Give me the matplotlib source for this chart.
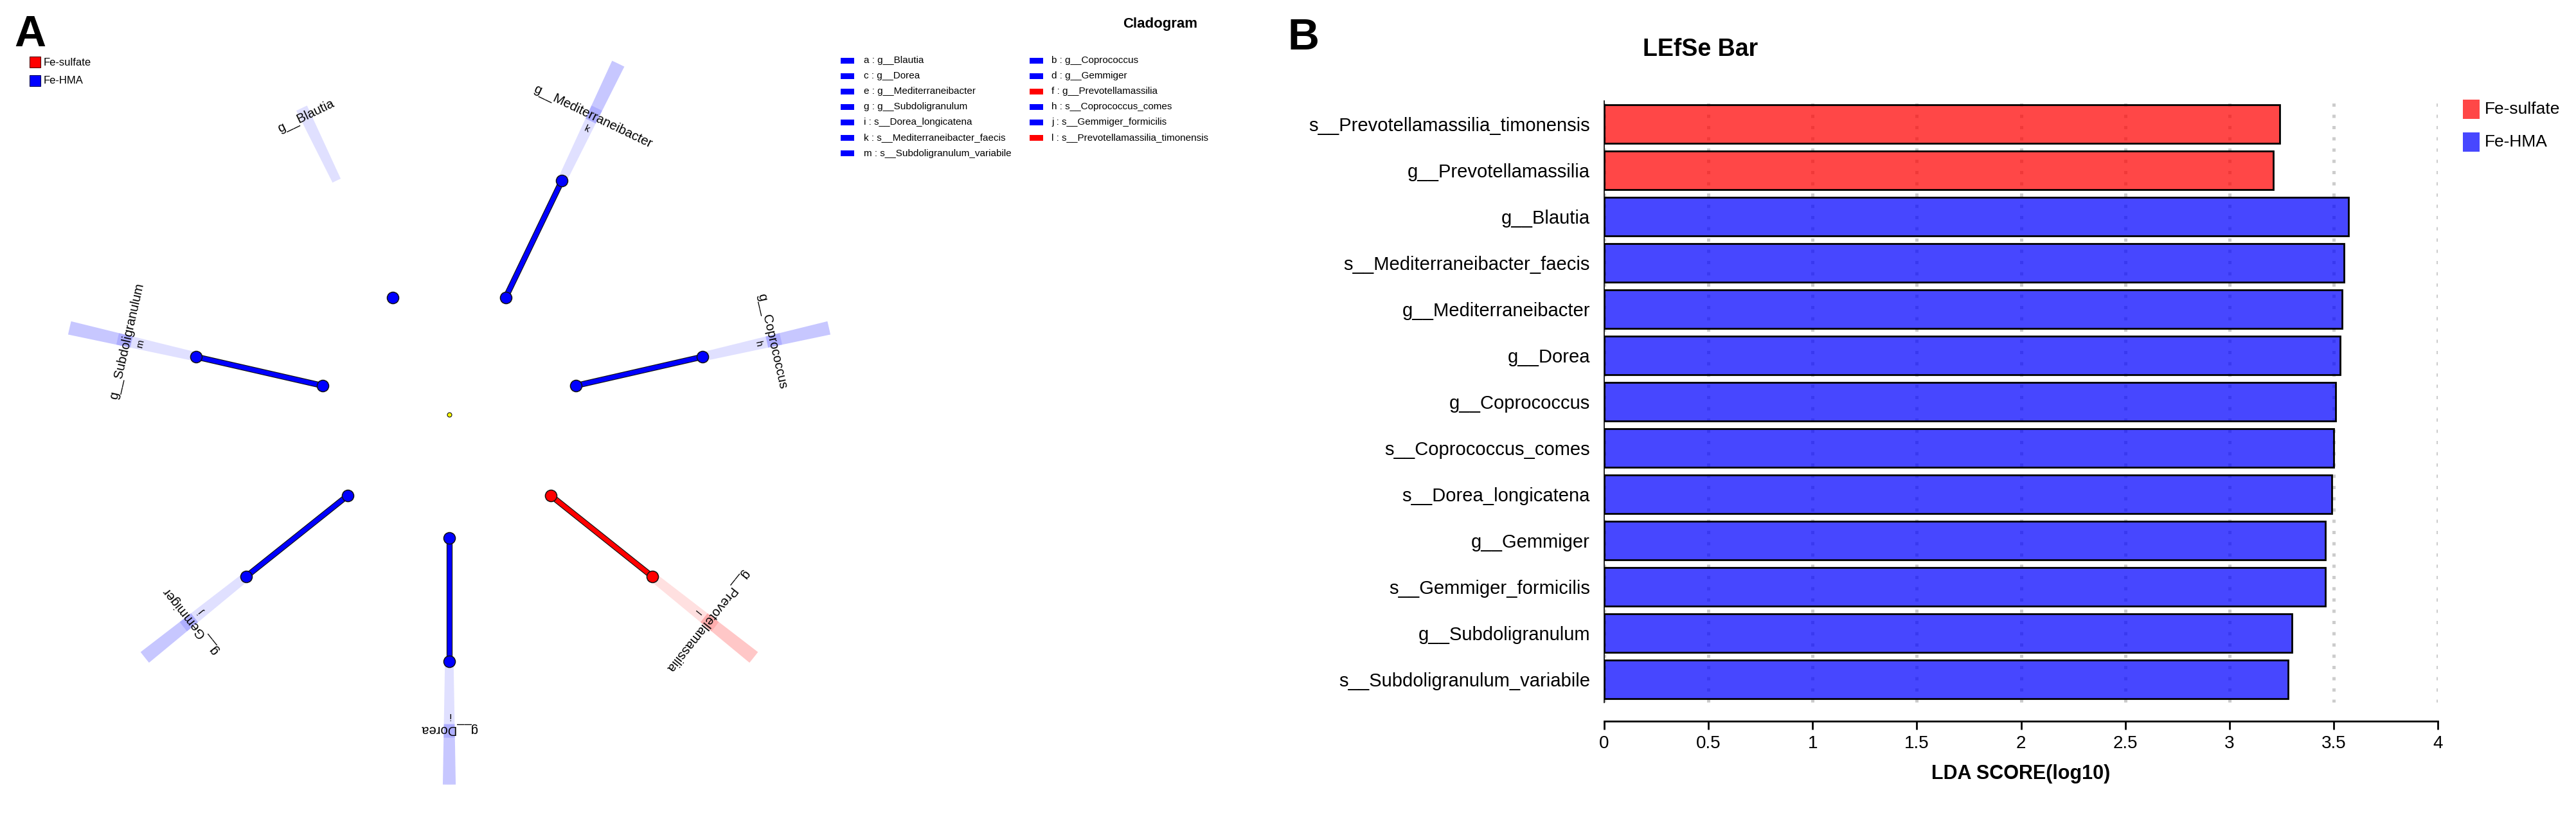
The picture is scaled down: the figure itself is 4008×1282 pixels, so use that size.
import numpy as np
import matplotlib.pyplot as plt
from matplotlib.patches import Wedge, Rectangle

W, H = 4008, 1282
plt.rcParams['font.family'] = ['Liberation Sans', 'DejaVu Sans']

## data

groups = ['Fe-sulfate', 'Fe-HMA']
clade_colors = {'Fe-sulfate': '#FF0000', 'Fe-HMA': '#0000FF'}
bar_colors = {'Fe-sulfate': (1.0, 0.0, 0.0, 0.72), 'Fe-HMA': (0.0, 0.0, 1.0, 0.72)}

# cladogram branches, counter-clockwise starting from the bottom
clade_genus = ['g__Dorea', 'g__Prevotellamassilia', 'g__Coprococcus',
               'g__Mediterraneibacter', 'g__Blautia', 'g__Subdoligranulum',
               'g__Gemmiger']
clade_species = ['s__Dorea_longicatena', 's__Prevotellamassilia_timonensis',
                 's__Coprococcus_comes', 's__Mediterraneibacter_faecis', None,
                 's__Subdoligranulum_variabile', 's__Gemmiger_formicilis']
clade_group = ['Fe-HMA', 'Fe-sulfate', 'Fe-HMA', 'Fe-HMA', 'Fe-HMA',
               'Fe-HMA', 'Fe-HMA']
genus_node = [True, True, True, True, False, True, True]

# LEfSe bar
bar_taxa = ['s__Prevotellamassilia_timonensis', 'g__Prevotellamassilia',
            'g__Blautia', 's__Mediterraneibacter_faecis',
            'g__Mediterraneibacter', 'g__Dorea', 'g__Coprococcus',
            's__Coprococcus_comes', 's__Dorea_longicatena', 'g__Gemmiger',
            's__Gemmiger_formicilis', 'g__Subdoligranulum',
            's__Subdoligranulum_variabile']
lda_score = [3.24, 3.21, 3.57, 3.55, 3.54, 3.53, 3.51, 3.50, 3.49, 3.46,
             3.46, 3.30, 3.28]
bar_group = ['Fe-sulfate', 'Fe-sulfate'] + ['Fe-HMA'] * 11
xtick_vals = [0, 0.5, 1, 1.5, 2, 2.5, 3, 3.5, 4]
xtick_labels = ['0', '0.5', '1', '1.5', '2', '2.5', '3', '3.5', '4']


def fx(x):
    return x / W


def fy(y):
    return 1 - y / H


fig = plt.figure(figsize=(W / 100, H / 100), dpi=100)

## panel A, cladogram

unit = 202.0          # px per level
cx, cy = 699, 645     # centre in px
axA = fig.add_axes([0, 0, 2000 / W, 1])
axA.set_xlim(-cx / unit, (2000 - cx) / unit)
axA.set_ylim((cy - H) / unit, cy / unit)
axA.axis('off')

nclade = len(clade_genus)
for i in range(nclade):
    th = 270 + i * 360.0 / nclade
    t = np.radians(th)
    k = 0.95 if th == 270 else 1.0   # bottom branch is drawn a bit shorter
    c = clade_colors[clade_group[i]]
    # clade shading
    axA.add_patch(Wedge((0, 0), 2.62 * k, th - 1, th + 1, width=0.62 * k,
                        facecolor=c, alpha=0.12, lw=0, zorder=1))
    if clade_species[i] is not None:
        axA.add_patch(Wedge((0, 0), 3.0 * k, th - 1, th + 1, width=0.49 * k,
                            facecolor=c, alpha=0.22, lw=0, zorder=1))
    if genus_node[i]:
        xs = [k * np.cos(t), 2 * k * np.cos(t)]
        ys = [k * np.sin(t), 2 * k * np.sin(t)]
        axA.plot(xs, ys, color='#111111', lw=6.7, solid_capstyle='butt', zorder=2)
        axA.plot(xs, ys, color=c, lw=5, solid_capstyle='butt', zorder=3)
        axA.plot(xs[1], ys[1], 'o', ms=13, mfc=c, mec='#111111', mew=1.1, zorder=4)
    axA.plot(k * np.cos(t), k * np.sin(t), 'o', ms=13, mfc=c, mec='#111111',
             mew=1.1, zorder=4)
    axA.text(2.55 * k * np.cos(t), 2.55 * k * np.sin(t), clade_genus[i],
             fontsize=14.5, rotation=th - 90, rotation_mode='anchor',
             ha='center', va='center', zorder=5)

# letters for the taxa legend
letter_taxa = sorted(clade_genus) + sorted(s for s in clade_species if s)
letters = [chr(ord('a') + n) for n in range(len(letter_taxa))]
for i in range(nclade):
    if clade_species[i] is None:
        continue
    th = 270 + i * 360.0 / nclade
    t = np.radians(th)
    k = 0.95 if th == 270 else 1.0
    let = letters[letter_taxa.index(clade_species[i])]
    axA.text(2.44 * k * np.cos(t), 2.44 * k * np.sin(t), let, fontsize=11,
             rotation=th - 90, rotation_mode='anchor', ha='center', va='center',
             zorder=5)

axA.plot(0, 0, 'o', ms=5, mfc='#ffff00', mec='#111111', mew=0.8, zorder=4)

fig.text(fx(1805), fy(38), 'Cladogram', fontsize=16, fontweight='bold',
         ha='center', va='center')

# group legend
for n, g in enumerate(groups):
    fig.add_artist(Rectangle((fx(46), fy(105 + 29 * n)), 17 / W, 17 / H,
                             transform=fig.transFigure,
                             facecolor=clade_colors[g],
                             edgecolor='#550000' if n == 0 else '#000055', lw=0.8))
    fig.text(fx(68), fy(97 + 28 * n), g, fontsize=12, va='center')

# taxa legend
genus_of = dict(zip(clade_genus, clade_group))
for n, taxon in enumerate(letter_taxa):
    col, row = n % 2, n // 2
    gname = 'g__' + taxon[3:].split('_')[0]
    c = clade_colors[genus_of[gname]]
    yc = 94 + row * 24.1
    fig.add_artist(Rectangle((fx(1308 + col * 294), fy(yc + 4.5)), 21 / W, 9 / H,
                             transform=fig.transFigure, facecolor=c, lw=0))
    fig.text(fx(1344 + col * 292), fy(yc), letters[n] + ' : ' + taxon,
             fontsize=11, va='center')

fig.text(fx(22), fy(72), 'A', fontsize=49, fontweight='bold', va='baseline')

## panel B, LDA bars

top, bot, left, right = 157, 1093, 2496, 3793
axB = fig.add_axes([fx(left), fy(bot), (right - left) / W, (bot - top) / H])
for s in ['top', 'right']:
    axB.spines[s].set_visible(False)
axB.spines['left'].set_linewidth(1.2)
axB.spines['bottom'].set_position(('outward', 21))
axB.spines['bottom'].set_linewidth(2.0)

ypos = np.arange(len(bar_taxa))
axB.barh(ypos, lda_score, height=0.83,
         color=[bar_colors[g] for g in bar_group],
         edgecolor='black', linewidth=2.0, zorder=2)
axB.set_xlim(0, 4)
axB.set_ylim(len(bar_taxa) - 0.5, -0.5)
axB.set_xticks(xtick_vals)
axB.set_xticklabels(xtick_labels, fontsize=20)
axB.set_yticks(ypos)
axB.set_yticklabels(bar_taxa, fontsize=21)
axB.grid(axis='x', color='#cccccc', linestyle=(0, (1, 2.5)), linewidth=3.6, zorder=0)
axB.set_axisbelow(True)
axB.tick_params(axis='y', length=0, pad=16)
axB.tick_params(axis='x', length=9, width=2.0, pad=6.5)
axB.set_xlabel('LDA SCORE(log10)', fontsize=22, fontweight='bold', labelpad=14)

fig.text(fx(2646), fy(77), 'LEfSe Bar', fontsize=27, fontweight='bold',
         ha='center', va='center')
fig.text(fx(2003), fy(77), 'B', fontsize=49, fontweight='bold', va='baseline')

for n, g in enumerate(groups):
    fig.add_artist(Rectangle((fx(3832), fy(185 + 51 * n)), 26 / W, 30 / H,
                             transform=fig.transFigure,
                             facecolor=bar_colors[g], lw=0))
    fig.text(fx(3866), fy(170 + 51 * n), g, fontsize=19, va='center')

fig.savefig('out.png', dpi=100)
